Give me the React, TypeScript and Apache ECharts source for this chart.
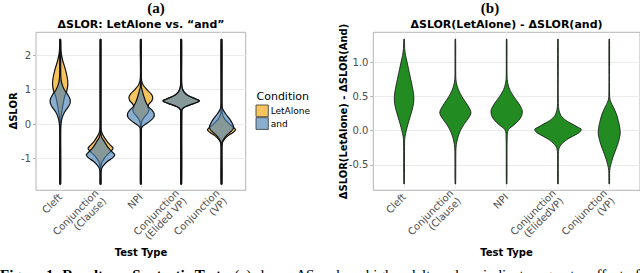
import React, { useEffect, useRef } from 'react';
import * as echarts from 'echarts';

// ---------- data ----------
const categoriesA = ['Cleft', 'Conjunction\n(Clause)', 'NPI', 'Conjunction\n(Elided VP)', 'Conjunction\n(VP)'];
const categoriesB = ['Cleft', 'Conjunction\n(Clause)', 'NPI', 'Conjunction\n(ElidedVP)', 'Conjunction\n(VP)'];
const positions = [1, 2, 3, 4, 5];
const yTicksA = [-1, 0, 1, 2];
const yTicksB = [-0.5, 0, 0.5, 1.0];
const conditions = ['LetAlone', 'and'];

// density profiles: [value, half width as fraction of category band], top to bottom
const letAloneViolins = [
  [[2.45, 0], [2.1, 0.02], [1.85, 0.06], [1.6, 0.125], [1.35, 0.175], [1.15, 0.19], [0.95, 0.16], [0.8, 0.11], [0.6, 0.075], [0.4, 0.045], [0.2, 0.02], [0, 0.008], [-1.74, 0]],
  [[2.45, 0], [-0.1, 0.01], [-0.22, 0.025], [-0.35, 0.075], [-0.5, 0.16], [-0.62, 0.25], [-0.7, 0.31], [-0.78, 0.27], [-0.88, 0.175], [-1.0, 0.09], [-1.13, 0.025], [-1.3, 0.008], [-1.74, 0]],
  [[2.45, 0], [1.35, 0.01], [1.15, 0.05], [1.0, 0.15], [0.88, 0.25], [0.78, 0.295], [0.68, 0.275], [0.58, 0.2], [0.5, 0.175], [0.42, 0.2], [0.33, 0.175], [0.22, 0.1], [0.12, 0.04], [0.0, 0.01], [-1.74, 0]],
  [[2.45, 0], [1.2, 0.01], [1.05, 0.025], [0.95, 0.06], [0.85, 0.14], [0.78, 0.25], [0.72, 0.375], [0.68, 0.45], [0.63, 0.4], [0.57, 0.25], [0.5, 0.1], [0.45, 0.04], [0.4, 0.015], [-1.74, 0]],
  [[2.45, 0], [0.45, 0.005], [0.3, 0.02], [0.15, 0.075], [0.0, 0.2], [-0.1, 0.3], [-0.17, 0.35], [-0.25, 0.275], [-0.35, 0.15], [-0.45, 0.065], [-0.55, 0.02], [-0.7, 0.008], [-1.74, 0]],
];
const andViolins = [
  [[2.45, 0], [1.4, 0.015], [1.2, 0.035], [1.0, 0.1], [0.85, 0.19], [0.72, 0.245], [0.6, 0.245], [0.5, 0.2], [0.35, 0.11], [0.2, 0.055], [0.05, 0.025], [-0.2, 0.01], [-1.74, 0]],
  [[2.45, 0], [-0.2, 0.005], [-0.37, 0.025], [-0.5, 0.09], [-0.7, 0.2], [-0.82, 0.3], [-0.9, 0.355], [-0.98, 0.3], [-1.08, 0.175], [-1.2, 0.075], [-1.3, 0.025], [-1.45, 0.01], [-1.74, 0]],
  [[2.45, 0], [1.1, 0.01], [0.95, 0.04], [0.8, 0.075], [0.65, 0.12], [0.5, 0.19], [0.4, 0.28], [0.3, 0.33], [0.2, 0.32], [0.1, 0.24], [0.0, 0.12], [-0.06, 0.05], [-0.12, 0.015], [-1.74, 0]],
  [[2.45, 0], [1.2, 0.01], [1.05, 0.025], [0.95, 0.06], [0.85, 0.14], [0.78, 0.25], [0.72, 0.375], [0.68, 0.45], [0.63, 0.4], [0.57, 0.25], [0.5, 0.1], [0.45, 0.04], [0.4, 0.015], [-1.74, 0]],
  [[2.45, 0], [0.6, 0.008], [0.45, 0.025], [0.3, 0.1], [0.15, 0.2], [0.0, 0.275], [-0.1, 0.3], [-0.2, 0.25], [-0.3, 0.15], [-0.4, 0.075], [-0.5, 0.025], [-0.6, 0.01], [-1.74, 0]],
];
const diffViolins = [
  [[1.34, 0], [1.2, 0.012], [1.1, 0.03], [1.0, 0.06], [0.9, 0.088], [0.8, 0.117], [0.7, 0.146], [0.6, 0.172], [0.5, 0.19], [0.4, 0.185], [0.3, 0.156], [0.2, 0.117], [0.1, 0.078], [0.0, 0.043], [-0.08, 0.02], [-0.15, 0.01], [-0.78, 0]],
  [[1.34, 0], [0.8, 0.008], [0.7, 0.02], [0.6, 0.06], [0.5, 0.127], [0.4, 0.215], [0.3, 0.293], [0.25, 0.303], [0.18, 0.254], [0.1, 0.176], [0.0, 0.098], [-0.1, 0.049], [-0.2, 0.02], [-0.3, 0.01], [-0.78, 0]],
  [[1.34, 0], [0.8, 0.008], [0.7, 0.02], [0.6, 0.06], [0.5, 0.137], [0.4, 0.234], [0.3, 0.303], [0.22, 0.293], [0.15, 0.234], [0.08, 0.137], [0.02, 0.04], [-0.05, 0.012], [-0.78, 0]],
  [[1.34, 0], [0.4, 0.007], [0.3, 0.02], [0.22, 0.06], [0.15, 0.156], [0.1, 0.273], [0.05, 0.39], [0.02, 0.455], [-0.03, 0.41], [-0.08, 0.293], [-0.13, 0.176], [-0.2, 0.068], [-0.26, 0.02], [-0.35, 0.008], [-0.78, 0]],
  [[1.34, 0], [0.5, 0.008], [0.42, 0.03], [0.35, 0.078], [0.25, 0.137], [0.15, 0.176], [0.05, 0.205], [-0.04, 0.215], [-0.12, 0.195], [-0.2, 0.166], [-0.3, 0.117], [-0.4, 0.068], [-0.5, 0.03], [-0.58, 0.01], [-0.78, 0]],
];

// ---------- styles ----------
const ORANGE = 'rgba(240,164,7,0.65)';
const BLUE = 'rgba(75,130,183,0.65)';
const GREEN = '#228B22';
const FONT = 'DejaVu Sans';

function violinSeries(name: string, xi: number, profiles: number[][][], fill: string, lw: number, minHalf: number, z: number) {
  return {
    name,
    type: 'custom',
    xAxisIndex: xi,
    yAxisIndex: xi,
    z,
    silent: true,
    data: profiles.map((_, i) => [positions[i], i]),
    renderItem: (params: any, api: any) => {
      const xv = api.value(0);
      const idx = api.value(1);
      const prof = profiles[idx];
      const band = api.size([1, 0])[0];
      const cx = api.coord([xv, 0])[0];
      const right: number[][] = [];
      const left: number[][] = [];
      for (const [v, w] of prof) {
        const y = api.coord([xv, v])[1];
        const hw = Math.max(w * band, minHalf);
        right.push([cx + hw, y]);
        left.push([cx - hw, y]);
      }
      const pts = right.concat(left.reverse());
      return {
        type: 'polygon',
        shape: { points: pts, smooth: 0.3 },
        style: { fill, stroke: '#111', lineWidth: lw },
      };
    },
  };
}

function xAxisCfg(grid: number, cats: string[]) {
  return {
    type: 'value', gridIndex: grid, min: 0.4, max: 5.6,
    axisLine: { show: false },
    axisTick: { show: true, customValues: positions, length: 3, lineStyle: { color: '#b3b3b3' } },
    axisLabel: {
      customValues: positions, rotate: 45, margin: 5,
      formatter: (v: number) => cats[Math.round(v) - 1],
      fontSize: 10, lineHeight: 11, color: '#4d4d4d', fontFamily: FONT,
    },
    splitLine: { show: true, lineStyle: { color: '#f0f0f0', width: 1 } },
  };
}

function yAxisCfg(grid: number, min: number, max: number, ticks: number[], fmt: (v: number) => string) {
  return {
    type: 'value', gridIndex: grid, min, max,
    axisLine: { show: false },
    axisTick: { show: true, customValues: ticks, length: 3, lineStyle: { color: '#b3b3b3' } },
    axisLabel: { customValues: ticks, formatter: fmt, margin: 5, fontSize: 10, color: '#4d4d4d', fontFamily: FONT },
    splitLine: { show: true, lineStyle: { color: '#ebebeb', width: 1 } },
  };
}

const txt = (x: number, y: number, text: string, font: string, extra: any = {}) => ({
  type: 'text', x, y, ...extra,
  style: { text, font, fill: '#000', align: 'center', verticalAlign: 'middle', textAlign: 'center', textVerticalAlign: 'middle', ...(extra.style || {}) },
});

export default function App() {
  const ref = useRef<HTMLDivElement>(null);
  useEffect(() => {
    if (!ref.current) return;
    const chart = echarts.init(ref.current, null, { renderer: 'svg' });
    const option: any = {
      animation: false,
      backgroundColor: '#fff',
      grid: [
        { left: 36, top: 32.3, width: 209.7, height: 158, show: true, borderColor: '#b3b3b3', borderWidth: 1 },
        { left: 373.3, top: 32.3, width: 266.7, height: 158, show: true, borderColor: '#b3b3b3', borderWidth: 1 },
      ],
      xAxis: [xAxisCfg(0, categoriesA), xAxisCfg(1, categoriesB)],
      yAxis: [
        yAxisCfg(0, -1.92, 2.66, yTicksA, (v: number) => String(Math.round(v))),
        yAxisCfg(1, -0.873, 1.44, yTicksB, (v: number) => v.toFixed(1)),
      ],
      series: [
        violinSeries(conditions[0], 0, letAloneViolins, ORANGE, 1.2, 0.4, 2),
        violinSeries(conditions[1], 0, andViolins, BLUE, 1.2, 0.4, 3),
        violinSeries('diff', 1, diffViolins, GREEN, 0.8, 0.3, 2),
      ],
      graphic: [
        txt(156, 8, '(a)', 'bold 15px "Liberation Serif"'),
        txt(490, 8, '(b)', 'bold 15px "Liberation Serif"'),
        txt(141, 24, 'ΔSLOR: LetAlone vs. “and”', `bold 11px "${FONT}"`),
        txt(506.5, 24, 'ΔSLOR(LetAlone) - ΔSLOR(and)', `bold 11px "${FONT}"`),
        txt(141, 252, 'Test Type', `bold 10px "${FONT}"`),
        txt(506.5, 252, 'Test Type', `bold 10px "${FONT}"`),
        txt(13.5, 111, 'ΔSLOR', `bold 10px "${FONT}"`, { rotation: Math.PI / 2 }),
        txt(343, 111.5, 'ΔSLOR(LetAlone) - ΔSLOR(And)', `bold 10px "${FONT}"`, { rotation: Math.PI / 2 }),
        {
          type: 'text', x: 256.5, y: 96,
          style: { text: 'Condition', font: `11px "${FONT}"`, fill: '#000', verticalAlign: 'middle', textVerticalAlign: 'middle' },
        },
        { type: 'rect', shape: { x: 256, y: 105, width: 12.3, height: 11.7 }, style: { fill: ORANGE, stroke: '#333', lineWidth: 0.8 } },
        { type: 'rect', shape: { x: 256, y: 117.7, width: 12.3, height: 11.7 }, style: { fill: BLUE, stroke: '#333', lineWidth: 0.8 } },
        {
          type: 'text', x: 270.7, y: 111,
          style: { text: conditions[0], font: `9px "${FONT}"`, fill: '#000', verticalAlign: 'middle', textVerticalAlign: 'middle' },
        },
        {
          type: 'text', x: 270.7, y: 123.5,
          style: { text: conditions[1], font: `9px "${FONT}"`, fill: '#000', verticalAlign: 'middle', textVerticalAlign: 'middle' },
        },
        {
          type: 'text', x: 0, y: 267,
          style: {
            text: '{b|Figure 1: Results on Syntactic Tests.} (a) shows {o|ΔS} , where higher delta values indicate a greater effect of the',
            font: '15px "Liberation Serif"', fill: '#000', verticalAlign: 'top', textVerticalAlign: 'top',
            rich: {
              b: { fontWeight: 'bold', fontFamily: 'Liberation Serif', fontSize: 15 },
              o: { fontFamily: 'Liberation Serif', fontSize: 15, color: '#c98a2b' },
            },
          },
        },
      ],
    };
    chart.setOption(option);
    return () => chart.dispose();
  }, []);
  return <div ref={ref} style={{ position: 'fixed', left: 0, top: 0, width: 640, height: 273 }} />;
}
